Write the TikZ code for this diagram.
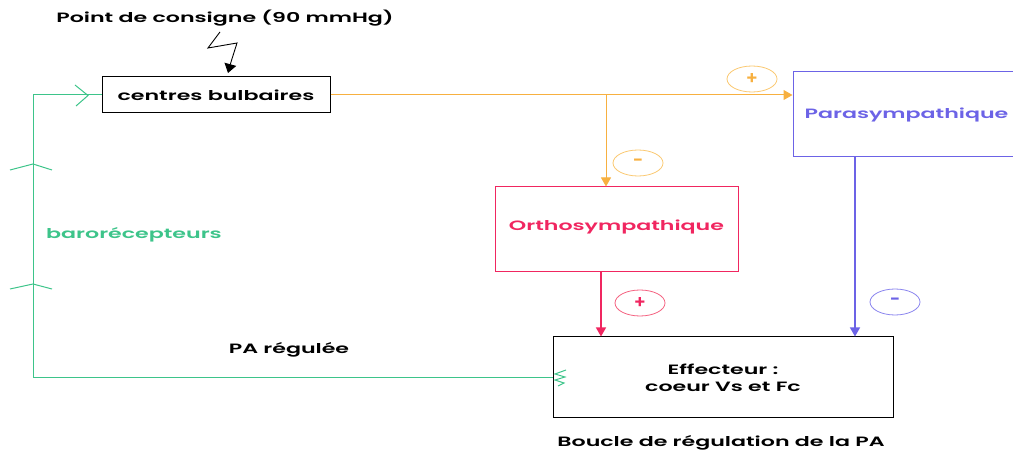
\documentclass[tikz,border=0pt]{standalone}
\usepackage{fontspec}
\setmainfont{Poppins}[UprightFont={* SemiBold}]
\usepackage{graphicx}
\usetikzlibrary{arrows.meta,shapes.geometric}
\definecolor{orng}{HTML}{F7B040}
\definecolor{orngl}{HTML}{FAC870}
\definecolor{grn}{HTML}{3DC48A}
\definecolor{pnk}{HTML}{F02660}
\definecolor{pnkl}{HTML}{F4607F}
\definecolor{prp}{HTML}{6C63E6}
\definecolor{prpl}{HTML}{8A84EE}
\newcommand\wide[1]{\scalebox{1.64}[1]{#1}}
\begin{document}
\begin{tikzpicture}[x=1pt,y=-1pt,
  every node/.style={font=\fontsize{13.5}{16}\selectfont, inner sep=0pt},
  box/.style={draw, rectangle, line width=1pt},
  sign/.style={draw, ellipse, minimum width=50pt, minimum height=26pt, line width=0.8pt, font=\fontsize{18}{20}\selectfont},
  tip/.style={-{Triangle[width=10pt,length=9pt]}},
  lbl/.style={align=center}]
\useasboundingbox (0,0) rectangle (1013,454);
\clip (0,0) rectangle (1013,454);

% boxes
\node[box, minimum width=228pt, minimum height=36pt] (cb) at (216,95) {\wide{centres bulbaires}};
\node[box, draw=prp, text=prp, minimum width=227pt, minimum height=85pt] (para) at (906.5,114.5) {\wide{Parasympathique}};
\node[box, draw=pnk, text=pnk, minimum width=243pt, minimum height=85pt, text depth=8pt] (ortho) at (616.5,229.5) {\wide{Orthosympathique}};
\node[box, minimum width=340pt, minimum height=81pt, align=center] (eff) at (723,377.5) {\wide{Effecteur :}\\[1pt]\wide{coeur Vs et Fc}};

% texts
\node (pc) at (225,18) {\wide{Point de consigne (90 mmHg)}};
\node[text=grn] (baro) at (134,235) {\wide{barorécepteurs}};
\node (pa) at (289,350) {\wide{PA régulée}};
\node (bcl) at (721,443) {\wide{Boucle de régulation de la PA}};

% lightning
\coordinate (l1) at (220,32);
\coordinate (l2) at (208,48);
\coordinate (l3) at (237,43);
\coordinate (l4) at (231,62);
\coordinate (l5) at (228,73);
\draw[line width=0.9pt, -{Triangle[width=12pt,length=9pt]}] (l1) -- (l2) -- (l3) -- (l4) -- (l5);

% orange connectors
\coordinate (j) at (606,95);
\draw[orng, line width=1pt, tip] (cb.east) -- (cb.east -| para.west);
\draw[orng, line width=1pt, tip] (j) -- (j |- ortho.north);
\node[sign, draw=orngl, text=orng] (sp1) at (752,79) {+};
\node[sign, draw=orngl, text=orng] (sm1) at (638,163) {-};

% pink connector
\coordinate (r0) at (601,272);
\draw[pnk, line width=1.2pt, tip] (r0) -- (r0 |- eff.north);
\node[sign, draw=pnkl, text=pnk] (sp2) at (640,303) {+};

% purple connector
\coordinate (p0) at (855,157);
\draw[prp, line width=1.2pt, tip] (p0) -- (p0 |- eff.north);
\node[sign, draw=prpl, text=prp] (sm2) at (895,302) {-};

% green loop
\coordinate (c1) at (33,378);
\draw[grn, line width=1pt] (c1 -| eff.west) -- (c1) |- (cb.west);
\draw[grn, line width=1pt] (75,85) -- (88,95.5) -- (76,106);
\draw[grn, line width=1pt] (10,170) -- (33,164) -- (52,170);
\draw[grn, line width=1pt] (10,289) -- (33,284) -- (52,289);
\draw[grn, line width=1pt] (566,370) -- (555,374) -- (565,377) -- (555,380) -- (564,383) -- (558,386);
\end{tikzpicture}
\end{document}
